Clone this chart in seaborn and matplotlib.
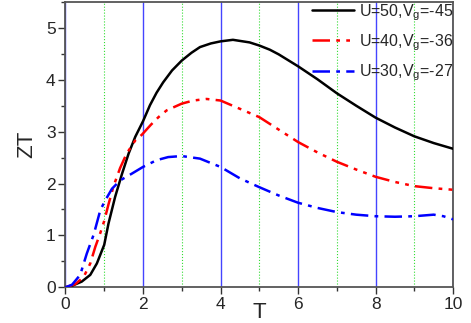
import numpy as np
import pandas as pd
import matplotlib
matplotlib.use("Agg")
import matplotlib.pyplot as plt
import seaborn as sns
from matplotlib.ticker import MultipleLocator

# ---- data ----
T_black = [0, 0.17, 0.42, 0.64, 0.81, 1.0, 1.11, 1.28, 1.46, 1.63, 1.80, 2.0, 2.18, 2.35, 2.52, 2.75,
           3.0, 3.25, 3.47, 3.75, 4.0, 4.32, 4.75, 5.0, 5.27, 5.5, 6.0, 6.5, 7.0, 7.5, 8.0, 8.5, 9.0, 9.5, 10.0]
ZT_black = [0, 0.03, 0.11, 0.24, 0.46, 0.82, 1.23, 1.74, 2.19, 2.58, 2.90, 3.20, 3.51, 3.75, 3.95, 4.18,
            4.37, 4.52, 4.63, 4.70, 4.74, 4.77, 4.72, 4.66, 4.58, 4.49, 4.26, 4.01, 3.74, 3.50, 3.27, 3.08, 2.91, 2.78, 2.67]

T_red = [0, 0.25, 0.47, 0.64, 0.77, 0.9, 1.0, 1.11, 1.24, 1.41, 1.58, 1.80, 1.97, 2.2, 2.4, 2.61,
         3.0, 3.3, 3.64, 4.0, 4.5, 5.0, 5.5, 6.0, 6.5, 7.0, 7.5, 8.0, 8.5, 9.0, 9.5, 10.0]
ZT_red = [0, 0.06, 0.20, 0.46, 0.78, 1.05, 1.28, 1.60, 1.95, 2.30, 2.58, 2.83, 2.94, 3.13, 3.28, 3.41,
          3.54, 3.60, 3.63, 3.60, 3.44, 3.28, 3.04, 2.80, 2.60, 2.42, 2.27, 2.13, 2.03, 1.95, 1.91, 1.88]

T_blue = [0, 0.17, 0.38, 0.55, 0.73, 0.9, 1.03, 1.20, 1.41, 1.71, 2.0, 2.35, 2.65, 3.0, 3.47, 4.0,
          4.5, 5.0, 5.5, 6.0, 6.5, 7.0, 7.5, 8.0, 8.5, 9.0, 9.5, 9.75, 10.0]
ZT_blue = [0, 0.05, 0.24, 0.65, 1.02, 1.49, 1.68, 1.90, 2.06, 2.19, 2.32, 2.45, 2.51, 2.53, 2.48, 2.32,
           2.10, 1.93, 1.77, 1.63, 1.53, 1.45, 1.40, 1.37, 1.36, 1.37, 1.40, 1.37, 1.31]

labels = [r"U=50,V$_\mathrm{g}$=-45", r"U=40,V$_\mathrm{g}$=-36", r"U=30,V$_\mathrm{g}$=-27"]
xticks = [0, 2, 4, 6, 8, 10]
yticks = [0, 1, 2, 3, 4, 5]

sns.set_theme(style="white")
plt.rcParams["font.family"] = ["Liberation Sans", "DejaVu Sans"]
plt.rcParams["mathtext.fontset"] = "custom"
plt.rcParams["mathtext.rm"] = "Liberation Sans"

fig = plt.figure(figsize=(4.71, 3.23), dpi=100)
ax = fig.add_axes([0.139, 0.1105, 0.823, 0.8835])

series = [
    (T_black, ZT_black, "black", "-"),
    (T_red, ZT_red, "red", (0, (7, 2.5, 1.5, 2.5, 1.5, 2.5))),
    (T_blue, ZT_blue, "blue", (0, (7, 2.5, 1.5, 2.5))),
]
for (tx, zy, col, ls), lab in zip(series, labels):
    df = pd.DataFrame({"T": tx, "ZT": zy})
    sns.lineplot(data=df, x="T", y="ZT", ax=ax, color=col, linestyle=ls,
                 lw=1.8, label=lab, sort=False, zorder=3)

ax.set_xlim(0, 10)
ax.set_ylim(0, 5.5)
ax.set_xticks(xticks)
ax.set_yticks(yticks)
ax.xaxis.set_minor_locator(MultipleLocator(1))
ax.yaxis.set_minor_locator(MultipleLocator(0.5))
ax.tick_params(axis="both", which="major", direction="out", length=5, width=1,
               labelsize=12.5, color="#333333", pad=2, bottom=True, left=True)
ax.tick_params(axis="both", which="minor", direction="out", length=3, width=1,
               color="#333333", bottom=True, left=True)

ax.grid(False)
ax.xaxis.grid(True, which="major", color="#4444ff", lw=1.0, ls="-", zorder=0)
ax.xaxis.grid(True, which="minor", color="#33dd33", lw=0.8, ls=":", zorder=0)
ax.set_axisbelow(True)

for s in ax.spines.values():
    s.set_color("#555555")
    s.set_linewidth(1.3)

ax.set_xlabel("T", fontsize=16, labelpad=-7)
ax.set_ylabel("ZT", fontsize=16, labelpad=6)

leg = ax.legend(loc="upper right", frameon=False, fontsize=11.5, handlelength=2.6,
                borderaxespad=0.0, borderpad=0.0, labelspacing=0.6, handletextpad=0.3)

fig.savefig("out.png", dpi=100)
